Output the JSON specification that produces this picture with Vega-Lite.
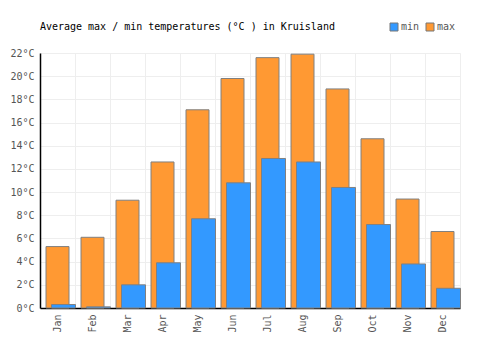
{
  "$schema": "https://vega.github.io/schema/vega-lite/v6.json",
  "width": 420,
  "height": 255,
  "autosize": {"type": "none"},
  "padding": {"left": 40, "top": 53, "right": 40, "bottom": 42},
  "background": "white",
  "title": {
    "text": "Average max / min temperatures (°C ) in Kruisland",
    "anchor": "start",
    "font": "DejaVu Sans Mono",
    "fontSize": 10,
    "fontWeight": "normal",
    "color": "#000000",
    "offset": 0,
    "dy": 10,
    "dx": 30
  },
  "config": {
    "view": {"stroke": "#eeeeee"},
    "font": "DejaVu Sans Mono"
  },
  "data": {
    "values": [
      {"month": "Jan", "series": "max", "temp": 5.3},
      {"month": "Feb", "series": "max", "temp": 6.1},
      {"month": "Mar", "series": "max", "temp": 9.3},
      {"month": "Apr", "series": "max", "temp": 12.6},
      {"month": "May", "series": "max", "temp": 17.1},
      {"month": "Jun", "series": "max", "temp": 19.8},
      {"month": "Jul", "series": "max", "temp": 21.6},
      {"month": "Aug", "series": "max", "temp": 21.9},
      {"month": "Sep", "series": "max", "temp": 18.9},
      {"month": "Oct", "series": "max", "temp": 14.6},
      {"month": "Nov", "series": "max", "temp": 9.4},
      {"month": "Dec", "series": "max", "temp": 6.6},
      {"month": "Jan", "series": "min", "temp": 0.3},
      {"month": "Feb", "series": "min", "temp": 0.1},
      {"month": "Mar", "series": "min", "temp": 2.0},
      {"month": "Apr", "series": "min", "temp": 3.9},
      {"month": "May", "series": "min", "temp": 7.7},
      {"month": "Jun", "series": "min", "temp": 10.8},
      {"month": "Jul", "series": "min", "temp": 12.9},
      {"month": "Aug", "series": "min", "temp": 12.6},
      {"month": "Sep", "series": "min", "temp": 10.4},
      {"month": "Oct", "series": "min", "temp": 7.2},
      {"month": "Nov", "series": "min", "temp": 3.8},
      {"month": "Dec", "series": "min", "temp": 1.7}
    ]
  },
  "encoding": {
    "x": {
      "field": "month",
      "type": "nominal",
      "sort": null,
      "scale": {"paddingInner": 0, "paddingOuter": 0},
      "axis": {
        "title": null,
        "labelAngle": -90,
        "labelAlign": "right",
        "labelBaseline": "middle",
        "labelFont": "DejaVu Sans Mono",
        "labelFontSize": 10,
        "labelColor": "#555555",
        "labelPadding": 6,
        "ticks": false,
        "domainColor": "#000000",
        "domainWidth": 1.5,
        "grid": true,
        "gridColor": "#eeeeee",
        "bandPosition": 0
      }
    },
    "y": {
      "field": "temp",
      "type": "quantitative",
      "scale": {"domain": [0, 22], "nice": false},
      "axis": {
        "title": null,
        "values": [0, 2, 4, 6, 8, 10, 12, 14, 16, 18, 20, 22],
        "labelExpr": "datum.value + '°C'",
        "labelFont": "DejaVu Sans Mono",
        "labelFontSize": 10,
        "labelColor": "#555555",
        "labelPadding": 6,
        "ticks": false,
        "domainColor": "#000000",
        "domainWidth": 1.5,
        "grid": true,
        "gridColor": "#eeeeee"
      }
    },
    "color": {
      "field": "series",
      "type": "nominal",
      "scale": {"domain": ["min", "max"], "range": ["#3399ff", "#ff9933"]},
      "legend": {
        "title": null,
        "orient": "none",
        "direction": "horizontal",
        "legendX": 349,
        "legendY": -31,
        "symbolType": "square",
        "symbolSize": 64,
        "symbolStrokeColor": "#777777",
        "symbolStrokeWidth": 1,
        "labelFont": "DejaVu Sans Mono",
        "labelFontSize": 10,
        "labelColor": "#555555",
        "columnPadding": 4,
        "labelOffset": 2
      }
    }
  },
  "layer": [
    {
      "transform": [{"filter": "datum.series === 'max'"}],
      "mark": {"type": "bar", "width": 23, "xOffset": 0, "stroke": "#808080", "strokeWidth": 1}
    },
    {
      "transform": [{"filter": "datum.series === 'min'"}],
      "mark": {"type": "bar", "width": 24, "xOffset": 6, "stroke": "#808080", "strokeWidth": 1}
    }
  ]
}
